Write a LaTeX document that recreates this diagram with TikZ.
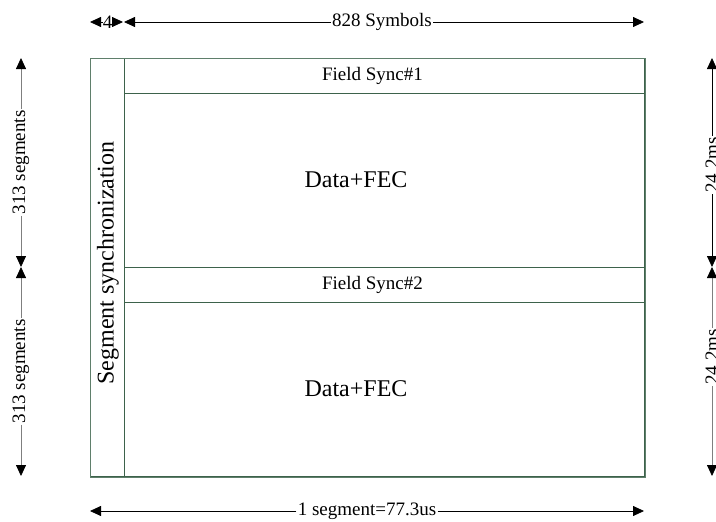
\documentclass[tikz,border=0pt]{standalone}
\usepackage{fontspec}
\setmainfont{Liberation Serif}
\usetikzlibrary{arrows.meta}
\definecolor{boxouter}{HTML}{5F7F6B}
\definecolor{boxinner}{HTML}{3D624B}
\definecolor{dimgray}{HTML}{7F7F7F}
\tikzset{
  region/.style={draw=boxinner, line width=1.4pt, inner sep=0pt, anchor=north west, align=center},
  smalltxt/.style={font=\fontsize{19}{21}\selectfont},
  bigtxt/.style={font=\fontsize{24}{26}\selectfont},
  dimlabel/.style={font=\fontsize{19}{21}\selectfont, fill=white, inner sep=1.2pt},
  dimblack/.style={draw=black, line width=0.8pt, -{Triangle[length=11pt,width=10pt,color=black]}},
  dimgrey/.style={draw=dimgray, line width=0.8pt, -{Triangle[length=11pt,width=10pt,color=black]}}
}
\begin{document}
\begin{tikzpicture}[x=1pt,y=-1pt]
\useasboundingbox (0,0) rectangle (716,522);
\clip (0,0) rectangle (716,522);
% frame regions
\node[region, minimum width=34pt, minimum height=418pt] (synccol) at (90,58) {};
\node[region, minimum width=520pt, minimum height=35pt] (fs1) at (124,58) {};
\node[region, minimum width=520pt, minimum height=174pt] (data1) at (124,93) {};
\node[region, minimum width=520pt, minimum height=35pt] (fs2) at (124,267) {};
\node[region, minimum width=520pt, minimum height=174pt] (data2) at (124,302) {};
\draw[boxouter, line width=1pt] (synccol.north west) rectangle (data2.south east);
% texts in frame
\node[smalltxt] (fs1t) at (372.5,75.5) {Field Sync\#1};
\node[smalltxt] (fs2t) at (372.5,284.5) {Field Sync\#2};
\node[bigtxt] (d1t) at (356,180) {Data+FEC};
\node[bigtxt] (d2t) at (356,389) {Data+FEC};
\node[bigtxt, rotate=90] (segt) at (108,263) {Segment synchronization};
% top dimension
\coordinate (tL) at (90,22);
\coordinate (tM) at (124,22);
\coordinate (tMr) at (123,22);
\coordinate (tR) at (644,22);
\node[dimlabel, inner sep=0pt] (four) at (107.5,22) {4};
\node[dimlabel] (sym) at (382,22) {828 Symbols};
\draw[dimblack] (four) -- (tL);
\draw[dimblack] (four) -- (tMr);
\draw[dimblack] (sym) -- (tM);
\draw[dimblack] (sym) -- (tR);
% bottom dimension
\coordinate (bL) at (90,511);
\coordinate (bR) at (644,511);
\node[dimlabel] (segl) at (367,511) {1 segment=77.3us};
\draw[dimblack] (segl) -- (bL);
\draw[dimblack] (segl) -- (bR);
% left dimension
\coordinate (lT) at (21,58);
\coordinate (lM) at (21,267);
\coordinate (lB) at (21,476);
\node[dimlabel, rotate=90] (l1) at (21,162.5) {313 segments};
\node[dimlabel, rotate=90] (l2) at (21,371.5) {313 segments};
\draw[dimgrey] (l1) -- (lT);
\draw[dimgrey] (l1) -- (lM);
\draw[dimgrey] (l2) -- (lM);
\draw[dimgrey] (l2) -- (lB);
% right dimension
\coordinate (rT) at (712,58);
\coordinate (rM) at (712,267);
\coordinate (rB) at (712,476);
\node[dimlabel, rotate=90] (r1) at (712,165) {24.2ms};
\node[dimlabel, rotate=90] (r2) at (712,357) {24.2ms};
\draw[dimblack] (r1) -- (rT);
\draw[dimblack] (r1) -- (rM);
\draw[dimgrey] (r2) -- (rM);
\draw[dimgrey] (r2) -- (rB);
\end{tikzpicture}
\end{document}
